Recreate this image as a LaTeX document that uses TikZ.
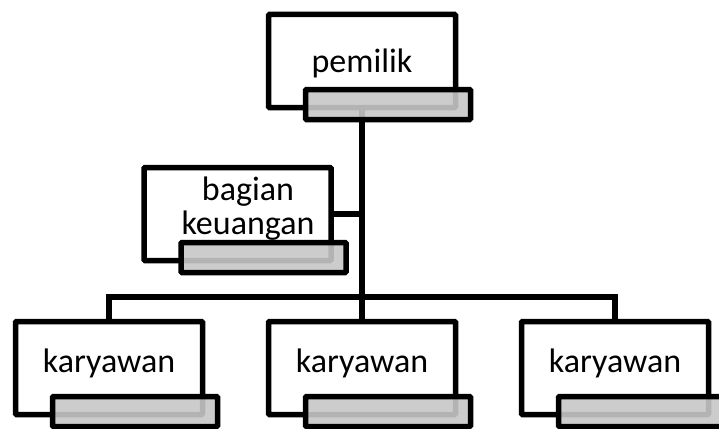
\documentclass[tikz,border=0pt]{standalone}
\usepackage{fontspec}
\setmainfont{Carlito}
\usetikzlibrary{calc,backgrounds}
\begin{document}
\begin{tikzpicture}[x=1pt,y=-1pt,
  box/.style={draw,line width=5.5pt,fill=white,minimum width=187pt,minimum height=93pt,inner sep=0pt,rounded corners=1pt},
  bar/.style={draw,line width=5.5pt,fill=black!22,fill opacity=0.9,draw opacity=1,minimum width=165pt,minimum height=30pt,inner sep=0pt,rounded corners=1pt},
  lbl/.style={font=\fontsize{34}{34}\selectfont,inner sep=0pt},
  link/.style={line width=5.5pt}]
\useasboundingbox (0,0) rectangle (719,428);
\clip (0,0) rectangle (719,428);
% boxes
\node[box] (pem) at (362,61) {};
\node[box] (bag) at (237.5,214) {};
\node[box] (k1) at (109,368) {};
\node[box] (k2) at (362,368) {};
\node[box] (k3) at (615,368) {};
% connectors
\coordinate (hub) at (362,297);
\begin{pgfonlayer}{background}
\draw[link] (pem.center) -- (hub);
\draw[link] (bag.east) -- (bag.east -| pem.south);
\draw[link] (k1.north) |- (hub) -| (k3.north);
\draw[link] (hub) -- (k2.north);
\end{pgfonlayer}
% bars
\node[bar] (pemb) at ($(pem.center)+(26,43.5)$) {};
\node[bar] (bagb) at ($(bag.center)+(26,43.5)$) {};
\node[bar] (k1b) at ($(k1.center)+(26,43.5)$) {};
\node[bar] (k2b) at ($(k2.center)+(26,43.5)$) {};
\node[bar] (k3b) at ($(k3.center)+(26,43.5)$) {};
% labels
\node[lbl,anchor=base] (pemt) at (362,72) {pemilik};
\node[lbl,align=center] (bagt) at (248,209) {bagian\\keuangan};
\node[lbl,anchor=base] (k1t) at (109,372) {karyawan};
\node[lbl,anchor=base] (k2t) at (362,372) {karyawan};
\node[lbl,anchor=base] (k3t) at (615,372) {karyawan};
\end{tikzpicture}
\end{document}
